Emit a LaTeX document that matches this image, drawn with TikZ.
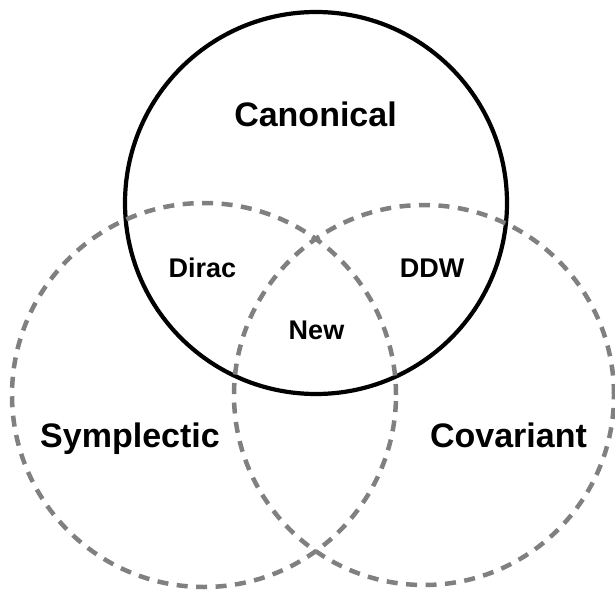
\documentclass[tikz,border=0pt]{standalone}
\usepackage{fontspec}
\setmainfont{Liberation Sans}
\definecolor{dashgray}{HTML}{808080}
\begin{document}
\begin{tikzpicture}[x=1pt,y=-1pt,
  solidring/.style={draw=black,line width=4.2pt},
  dashring/.style={draw=dashgray,line width=4.5pt,dash pattern=on 11pt off 8.5pt},
  biglabel/.style={font=\fontsize{34}{40}\selectfont\bfseries,anchor=base,inner sep=0pt},
  smalllabel/.style={font=\fontsize{27}{30}\selectfont\bfseries,anchor=base,inner sep=0pt}]
\useasboundingbox (0,0) rectangle (615,591);
\coordinate (ccan) at (316,203);
\coordinate (csym) at (204,395);
\coordinate (ccov) at (424,395);
\draw[solidring] (ccan) circle[radius=191pt];
\draw[dashring] (csym) circle[radius=192pt];
\draw[dashring] (ccov) circle[radius=190pt];
\node[biglabel] (canonical) at (315.5,126) {Canonical};
\node[smalllabel] (dirac) at (202.5,277) {Dirac};
\node[smalllabel] (ddw) at (432,277) {DDW};
\node[smalllabel] (new) at (316.5,339) {New};
\node[biglabel] (symplectic) at (130,447) {Symplectic};
\node[biglabel] (covariant) at (508.5,447) {Covariant};
\end{tikzpicture}
\end{document}
